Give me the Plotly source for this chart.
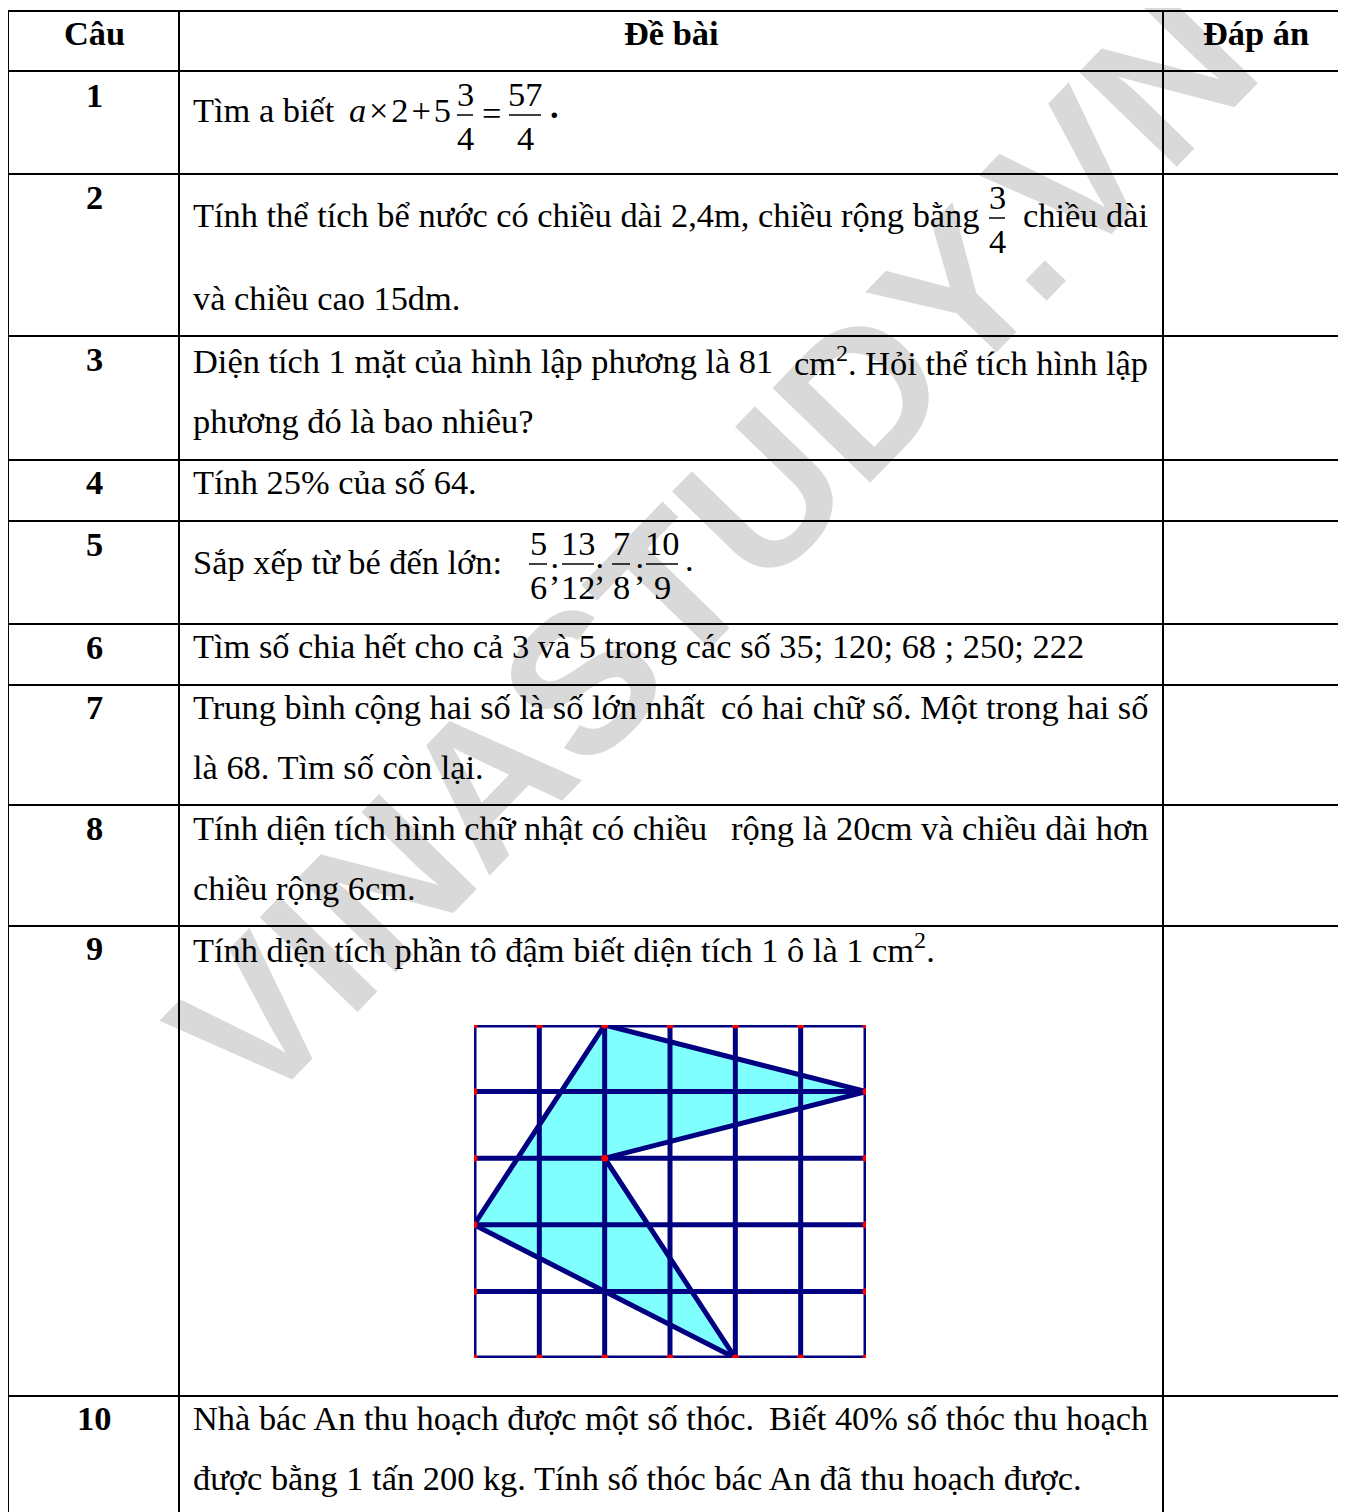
import plotly.graph_objects as go

W, H = 1346, 1512
OFF = 8  # page body margin of the html page

# table geometry (page pixels)
col_x = [8, 179, 1163]
row_y = [11, 71, 174, 336, 460, 521, 624, 685, 805, 926, 1396]

headers = ["Câu", "Đề bài", "Đáp án"]
header_x = [94, 671, 1256]

numbers = ["1", "2", "3", "4", "5", "6", "7", "8", "9", "10"]
number_y = [95, 197, 359, 482, 544, 647, 707, 828, 948, 1418]

L, R = 191, 1150
# (text, x, y, anchor)
lines = [
    ("Tìm a biết", L, 110, "left"),
    ("Tính thể tích bể nước có chiều dài 2,4m, chiều rộng bằng", L, 215, "left"),
    ("chiều dài", R, 215, "right"),
    ("và chiều cao 15dm.", L, 298, "left"),
    ("Diện tích 1 mặt của hình lập phương là 81", L, 361, "left"),
    ("cm<sup>2</sup>. Hỏi thể tích hình lập", R, 361, "right"),
    ("phương đó là bao nhiêu?", L, 421, "left"),
    ("Tính 25% của số 64.", L, 482, "left"),
    ("Sắp xếp từ bé đến lớn:", L, 562, "left"),
    ("Tìm số chia hết cho cả 3 và 5 trong các số 35; 120; 68 ; 250; 222", L, 646, "left"),
    ("Trung bình cộng hai số là số lớn nhất", L, 707, "left"),
    ("có hai chữ số. Một trong hai số", R, 707, "right"),
    ("là 68. Tìm số còn lại.", L, 767, "left"),
    ("Tính diện tích hình chữ nhật có chiều", L, 828, "left"),
    ("rộng là 20cm và chiều dài hơn", R, 828, "right"),
    ("chiều rộng 6cm.", L, 888, "left"),
    ("Tính diện tích phần tô đậm biết diện tích 1 ô là 1 cm<sup>2</sup>.", L, 948, "left"),
    ("Nhà bác An thu hoạch được một số thóc.", L, 1418, "left"),
    ("Biết 40% số thóc thu hoạch", R, 1418, "right"),
    ("được bằng 1 tấn 200 kg. Tính số thóc bác An đã thu hoạch được.", L, 1478, "left"),
]

# fractions: (numerator, denominator, centre x, bar y, bar half width)
fractions = [
    ("3", "4", 465, 115, 8),
    ("57", "4", 525, 115, 16),
    ("3", "4", 997, 218, 8),
    ("5", "6", 538, 564, 9),
    ("13", "12", 578, 564, 16),
    ("7", "8", 621, 564, 9),
    ("10", "9", 662, 564, 16),
]
# other math pieces (text, centre x, y)
math_bits = [
    ("<i>a</i>\u200a×\u200a2\u200a+\u200a5", 400, 110),
    ("=", 491, 113),
    ("<b>.</b>", 554, 106),
    (";", 555, 568),
    (";", 600, 568),
    (";", 640, 568),
    (".", 689, 559),
]

# shaded figure on a 6 x 5 grid of unit squares
grid_cols, grid_rows = 6, 5
shaded_x = [2, 6, 2, 4, 0, 2]
shaded_y = [0, 1, 2, 5, 3, 0]
dots_x = [0, 1, 2, 3, 4, 5, 6, 0, 1, 2, 3, 4, 5, 6, 0, 0, 0, 0, 6, 6, 6, 6, 2]
dots_y = [0, 0, 0, 0, 0, 0, 0, 5, 5, 5, 5, 5, 5, 5, 1, 2, 3, 4, 1, 2, 3, 4, 2]

SERIF = "Liberation Serif, Times New Roman, serif"
NAVY = "rgb(0,0,128)"
FS = 34.4

fig = go.Figure()

# table rules
tx, ty = [], []
for y in row_y:
    tx += [col_x[0] - 1, W, None]
    ty += [y, y, None]
for x in col_x:
    tx += [x, x, None]
    ty += [row_y[0] - 1, H, None]
fig.add_trace(go.Scatter(x=tx, y=ty, mode="lines", line=dict(color="black", width=2),
                         hoverinfo="skip"))
# fraction bars
bx, by_ = [], []
for num, den, cx, by, hw in fractions:
    bx += [cx - hw, cx + hw, None]
    by_ += [by, by, None]
fig.add_trace(go.Scatter(x=bx, y=by_, mode="lines", line=dict(color="black", width=1.5),
                         hoverinfo="skip"))

# shaded polygon fill
fig.add_trace(go.Scatter(x=shaded_x, y=shaded_y, xaxis="x2", yaxis="y2", mode="none",
                         fill="toself", fillcolor="rgb(128,255,255)", hoverinfo="skip"))
# grid lines
gx, gy = [], []
for c in range(grid_cols + 1):
    gx += [c, c, None]
    gy += [0, grid_rows, None]
for r in range(grid_rows + 1):
    gx += [0, grid_cols, None]
    gy += [r, r, None]
fig.add_trace(go.Scatter(x=gx, y=gy, xaxis="x2", yaxis="y2", mode="lines",
                         line=dict(color=NAVY, width=5), hoverinfo="skip"))
# polygon outline
fig.add_trace(go.Scatter(x=shaded_x, y=shaded_y, xaxis="x2", yaxis="y2", mode="lines",
                         line=dict(color=NAVY, width=5), hoverinfo="skip"))
fig.add_trace(go.Scatter(x=dots_x, y=dots_y, xaxis="x2", yaxis="y2", mode="markers",
                         marker=dict(color="red", size=7), hoverinfo="skip"))

annotations = []
# watermark
annotations.append(dict(x=712, y=547, text="VINASTUDY.VN", showarrow=False, textangle=-45.9,
                        font=dict(family="Liberation Sans", size=198,
                                  color="rgba(0,0,0,0.15)", weight="bold")))
for t, x in zip(headers, header_x):
    annotations.append(dict(x=x, y=33, text="<b>" + t + "</b>", showarrow=False,
                            font=dict(family=SERIF, size=FS, color="black")))
for t, y in zip(numbers, number_y):
    annotations.append(dict(x=94, y=y, text="<b>" + t + "</b>", showarrow=False,
                            font=dict(family=SERIF, size=FS, color="black")))
for t, x, y, a in lines:
    annotations.append(dict(x=x, y=y, text=t, showarrow=False, xanchor=a,
                            font=dict(family=SERIF, size=FS, color="black")))
for t, x, y in math_bits:
    annotations.append(dict(x=x, y=y, text=t, showarrow=False,
                            font=dict(family=SERIF, size=FS, color="black")))
for num, den, cx, by, hw in fractions:
    annotations.append(dict(x=cx, y=by - 21, text=num, showarrow=False,
                            font=dict(family=SERIF, size=FS, color="black")))
    annotations.append(dict(x=cx, y=by + 23, text=den, showarrow=False,
                            font=dict(family=SERIF, size=FS, color="black")))

FW, FH = W - OFF, H - OFF
fig.update_layout(
    width=FW, height=FH,
    margin=dict(l=0, r=0, t=0, b=0),
    paper_bgcolor="white", plot_bgcolor="rgba(0,0,0,0)",
    showlegend=False,
    xaxis=dict(range=[OFF, W], visible=False, domain=[0, 1], fixedrange=True),
    yaxis=dict(range=[H, OFF], visible=False, domain=[0, 1], fixedrange=True),
    xaxis2=dict(range=[0, grid_cols], visible=False, anchor="y2",
                domain=[(474 - OFF) / FW, (866 - OFF) / FW]),
    yaxis2=dict(range=[grid_rows, 0], visible=False, anchor="x2",
                domain=[1 - (1358 - OFF) / FH, 1 - (1025 - OFF) / FH]),
    annotations=annotations,
)

fig.write_html("out.html")
